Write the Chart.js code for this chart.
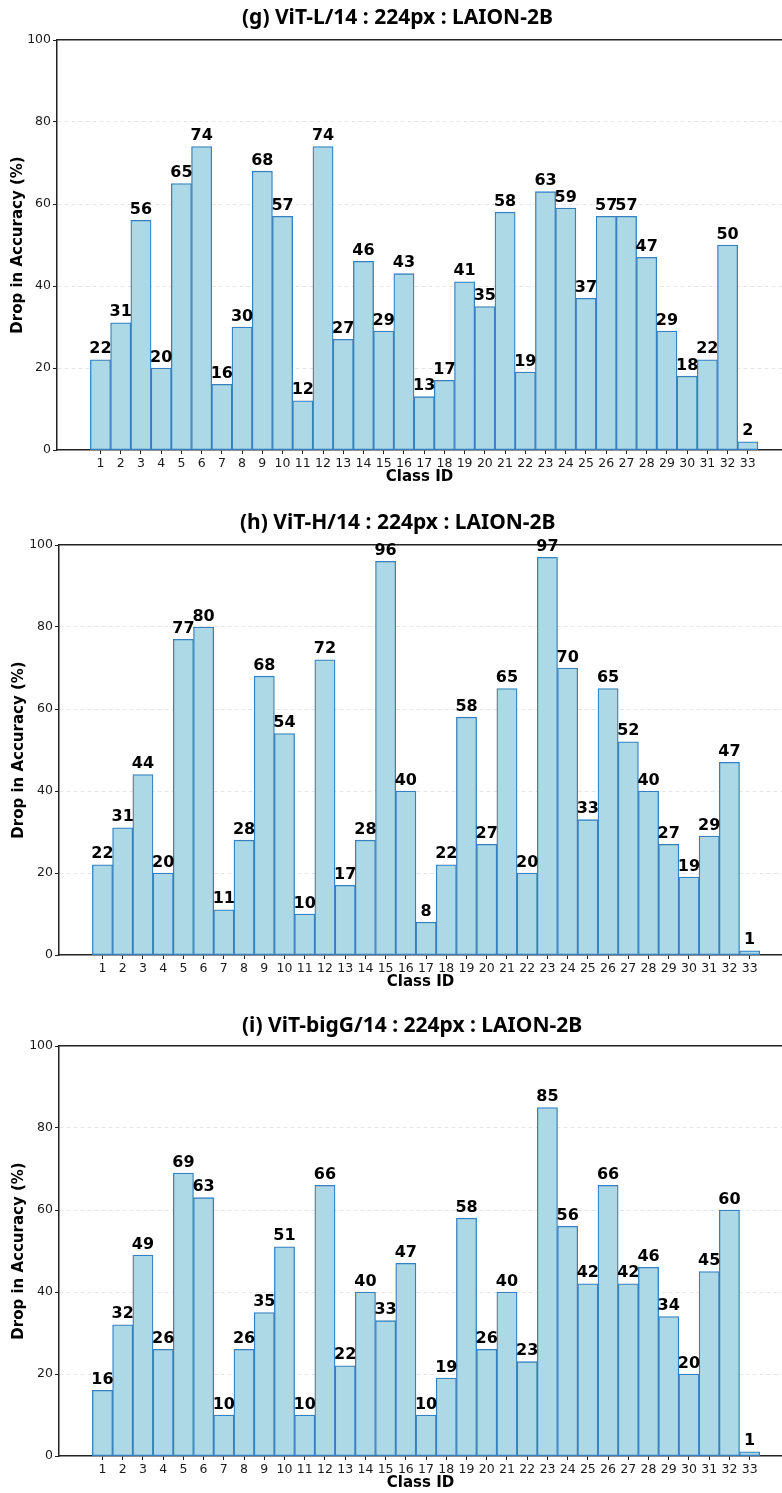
<!DOCTYPE html>
<html>
<head>
<meta charset="utf-8">
<script src="https://cdn.jsdelivr.net/npm/chart.js@4.4.1/dist/chart.umd.min.js"></script>
<style>
  html, body { margin: 0; padding: 0; background: #fff; overflow: hidden; }
  #wrap { position: relative; width: 782px; height: 1493px; overflow: hidden; }
  .panel { position: absolute; left: 0; width: 782px; height: 487px; }
  .panel canvas { position: absolute; left: 0; top: 0; }
  .panel h2 {
    position: absolute; margin: 0; z-index: 2;
    font: bold 21px "Noto Sans", sans-serif; line-height: 24px;
    color: #000; white-space: nowrap;
  }
</style>
</head>
<body>
<div id="wrap">
  <div class="panel" style="top:0px">
    <h2 style="top:4px;left:242px">(g) ViT-L/14 : 224px : LAION-2B</h2>
    <canvas id="chartL" width="782" height="487"></canvas>
  </div>
  <div class="panel" style="top:505px">
    <h2 style="top:4px;left:240px">(h) ViT-H/14 : 224px : LAION-2B</h2>
    <canvas id="chartH" width="782" height="487"></canvas>
  </div>
  <div class="panel" style="top:1006px">
    <h2 style="top:6px;left:242px">(i) ViT-bigG/14 : 224px : LAION-2B</h2>
    <canvas id="chartG" width="782" height="487"></canvas>
  </div>
</div>

<script>
// Class IDs on the x axis
const classIds = [1, 2, 3, 4, 5, 6, 7, 8, 9, 10, 11, 12, 13, 14, 15, 16, 17,
                  18, 19, 20, 21, 22, 23, 24, 25, 26, 27, 28, 29, 30, 31, 32, 33];

// Drop in accuracy (%) per class, one array per model
const dropVitL14 = [22, 31, 56, 20, 65, 74, 16, 30, 68, 57, 12, 74, 27, 46, 29, 43, 13,
                    17, 41, 35, 58, 19, 63, 59, 37, 57, 57, 47, 29, 18, 22, 50, 2];
const dropVitH14 = [22, 31, 44, 20, 77, 80, 11, 28, 68, 54, 10, 72, 17, 28, 96, 40, 8,
                    22, 58, 27, 65, 20, 97, 70, 33, 65, 52, 40, 27, 19, 29, 47, 1];
const dropVitBigG14 = [16, 32, 49, 26, 69, 63, 10, 26, 35, 51, 10, 66, 22, 40, 33, 47, 10,
                       19, 58, 26, 40, 23, 85, 56, 42, 66, 42, 46, 34, 20, 45, 60, 1];

// Y axis tick values
const yTicks = [0, 20, 40, 60, 80, 100];

const AXIS_COLOR = '#222';
const TICK_FONT = { family: 'DejaVu Sans', size: 12.5 };
const LABEL_FONT = { family: 'DejaVu Sans', size: 15, weight: 'bold' };

// Writes each bar's value above it
const barValueLabels = {
  id: 'barValueLabels',
  afterDatasetsDraw(chart) {
    const { ctx } = chart;
    const meta = chart.getDatasetMeta(0);
    const data = chart.data.datasets[0].data;
    ctx.save();
    ctx.font = 'bold 16px "DejaVu Sans"';
    ctx.fillStyle = '#000';
    ctx.textAlign = 'center';
    ctx.textBaseline = 'alphabetic';
    meta.data.forEach((bar, i) => {
      ctx.fillText(String(data[i].y), bar.x, bar.y - 6.5);
    });
    ctx.restore();
  }
};

function drawDropChart(canvasId, values, axisWidth, xMin, xMax, yTitlePad) {
  const points = classIds.map((id, i) => ({ x: id, y: values[i] }));
  return new Chart(document.getElementById(canvasId), {
    type: 'bar',
    data: {
      datasets: [{
        data: points,
        backgroundColor: '#add8e6',
        borderColor: '#3580c0',
        borderWidth: 1.3,
        borderSkipped: false,
        barPercentage: 1,
        categoryPercentage: 1
      }]
    },
    options: {
      responsive: false,
      animation: false,
      devicePixelRatio: 1,
      layout: { padding: { top: 40, left: 0, right: 0, bottom: 0 } },
      plugins: {
        legend: { display: false },
        tooltip: { enabled: false },
        title: { display: false }
      },
      scales: {
        x: {
          type: 'linear',
          position: 'bottom',
          offset: false,
          min: xMin,
          max: xMax,
          afterBuildTicks: (s) => { s.ticks = classIds.map(v => ({ value: v })); },
          afterFit: (s) => { s.height = 37; },
          ticks: {
            autoSkip: false, maxRotation: 0, padding: 2,
            color: '#1a1a1a', font: TICK_FONT,
            callback: (v) => String(v)
          },
          grid: {
            display: true, drawOnChartArea: false, drawTicks: true,
            tickLength: 4, tickColor: AXIS_COLOR, tickWidth: 1, offset: false
          },
          border: { display: true, color: AXIS_COLOR, width: 1.5 },
          title: {
            display: true, text: 'Class ID', color: '#000',
            font: LABEL_FONT, padding: { top: 0, bottom: 1 }
          }
        },
        xTop: {
          type: 'linear',
          position: 'top',
          offset: false,
          min: xMin,
          max: xMax,
          afterFit: (s) => { s.height = 0; },
          ticks: { display: false },
          grid: { display: false, drawTicks: false },
          border: { display: true, color: AXIS_COLOR, width: 1.5 }
        },
        y: {
          min: 0,
          max: 100,
          afterBuildTicks: (s) => { s.ticks = yTicks.map(v => ({ value: v })); },
          afterFit: (s) => { s.width = axisWidth; },
          ticks: { padding: 2, color: '#1a1a1a', font: TICK_FONT },
          grid: {
            display: true, drawOnChartArea: true, drawTicks: true,
            tickLength: 4, tickColor: AXIS_COLOR, tickWidth: 1,
            lineWidth: 0.8,
            color: (c) => (c.tick && (c.tick.value === 0 || c.tick.value === 100)) ? 'rgba(0,0,0,0)' : '#e0e0e0'
          },
          border: { display: true, color: AXIS_COLOR, width: 1.5, dash: [4, 3] },
          title: {
            display: true, text: 'Drop in Accuracy (%)', color: '#000',
            font: LABEL_FONT, padding: { top: yTitlePad, bottom: 0 }
          }
        }
      }
    },
    plugins: [barValueLabels]
  });
}

drawDropChart('chartL', dropVitL14, 57, -1.15, 34.69, 9);
drawDropChart('chartH', dropVitH14, 59, -1.15, 34.6, 10);
drawDropChart('chartG', dropVitBigG14, 59, -1.15, 34.6, 10);
</script>
</body>
</html>
